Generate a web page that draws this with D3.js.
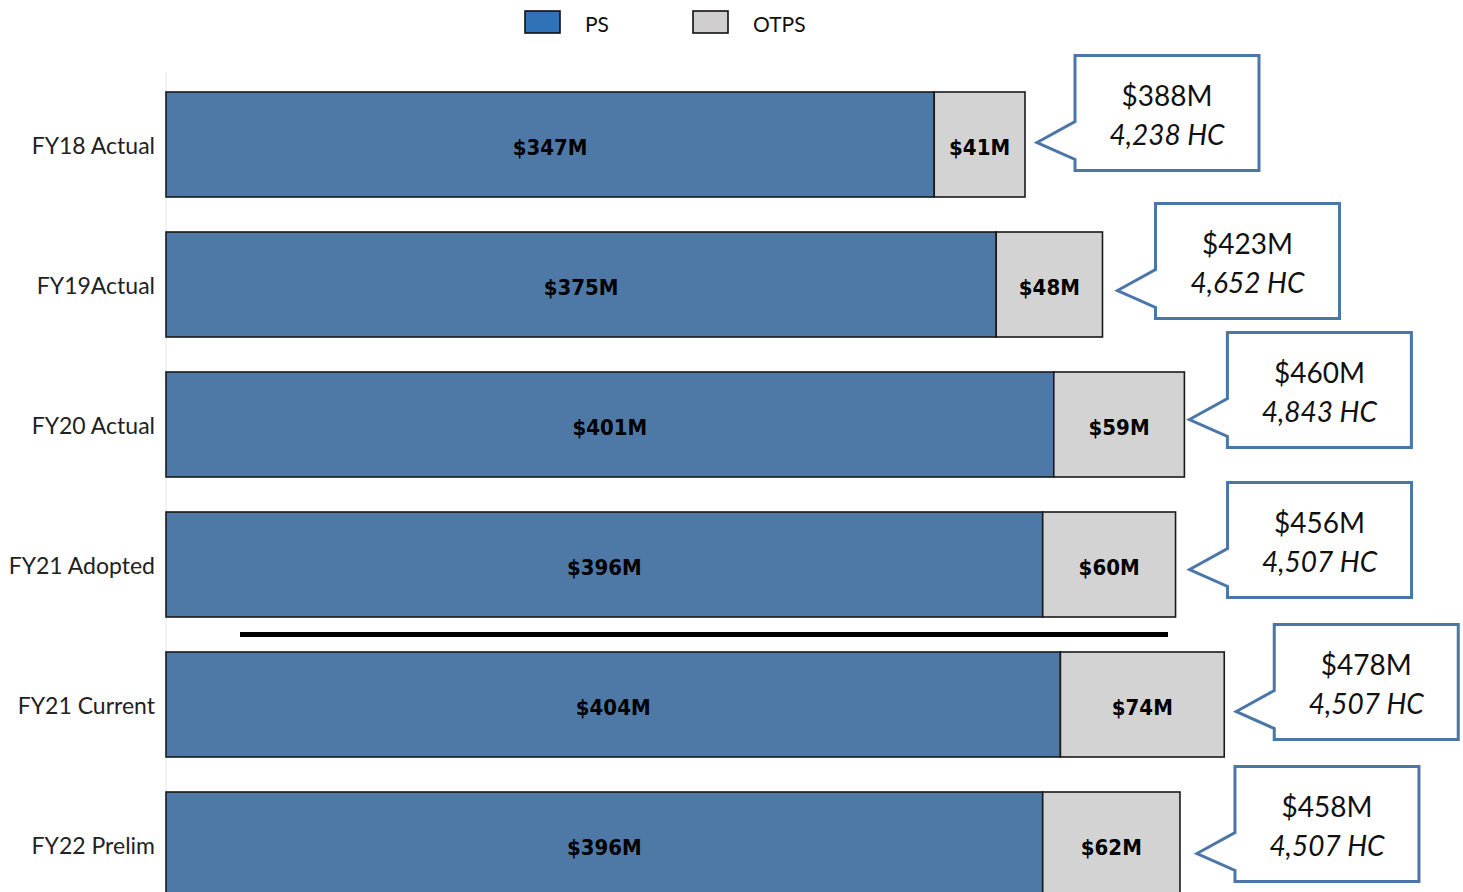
<!DOCTYPE html>
<html>
<head>
<meta charset="utf-8">
<script src="https://cdn.jsdelivr.net/npm/d3@7"></script>
<style>
  body { margin: 0; background: #fff; }
  svg { display: block; }
</style>
</head>
<body>
<div id="chart"></div>
<script>
const categories = ["FY18 Actual", "FY19Actual", "FY20 Actual", "FY21 Adopted", "FY21 Current", "FY22 Prelim"];
const psValues = [347, 375, 401, 396, 404, 396];
const otpsValues = [41, 48, 59, 60, 74, 62];
const totals = [388, 423, 460, 456, 478, 458];
const headcount = ["4,238", "4,652", "4,843", "4,507", "4,507", "4,507"];
const seriesNames = ["PS", "OTPS"];

// small per-row nudges for the callout boxes (layout only)
const calloutDx = [50, 53, 43, 52, 50, 55];
const calloutDy = [-89, -81, -92, -82, -80, -78];

const W = 1463, H = 892;
const svg = d3.select("#chart").append("svg")
  .attr("width", W)
  .attr("height", H);

const x = d3.scaleLinear()
  .domain([0, 500])
  .range([166, 166 + 500 * 859 / 388]);

const y = d3.scaleBand()
  .domain(categories)
  .range([74.5, 914.5])
  .paddingInner(0.25)
  .paddingOuter(0.125);

const color = d3.scaleOrdinal().domain(seriesNames).range(["#4e79a7", "#d3d3d3"]);

// faint axis line
svg.append("line")
  .attr("x1", 166).attr("x2", 166)
  .attr("y1", 72).attr("y2", H)
  .attr("stroke", "#eeeeee")
  .attr("stroke-width", 1.5);

const rows = categories.map((c, i) => ({ cat: c, ps: psValues[i], otps: otpsValues[i], total: totals[i], hc: headcount[i], i }));
const stack = d3.stack().keys(["ps", "otps"])(rows);

const layers = svg.selectAll(".layer")
  .data(stack)
  .enter().append("g")
  .attr("class", "layer")
  .attr("fill", (d, i) => color(seriesNames[i]));

layers.selectAll("rect")
  .data(d => d)
  .enter().append("rect")
  .attr("x", d => x(d[0]))
  .attr("y", d => y(d.data.cat))
  .attr("width", d => x(d[1]) - x(d[0]))
  .attr("height", y.bandwidth())
  .attr("stroke", "#1a1a1a")
  .attr("stroke-width", 1.6);

layers.selectAll("text")
  .data(d => d)
  .enter().append("text")
  .attr("x", d => (x(d[0]) + x(d[1])) / 2)
  .attr("y", d => y(d.data.cat) + y.bandwidth() / 2 + 3)
  .attr("dy", "0.36em")
  .attr("text-anchor", "middle")
  .style("font-family", "'DejaVu Sans Condensed', 'DejaVu Sans', sans-serif")
  .style("font-weight", "bold")
  .style("font-size", "22px")
  .style("fill", "#000")
  .text(d => "$" + (d[1] - d[0]) + "M");

// category labels
svg.append("g")
  .attr("transform", "translate(166,2)")
  .call(d3.axisLeft(y).tickSize(0).tickPadding(11))
  .call(g => g.select(".domain").remove())
  .selectAll("text")
  .style("font-family", "Lato, 'Open Sans', sans-serif")
  .style("font-size", "23px")
  .style("fill", "#222");

// separator line between adopted and current
const sepY = (y("FY21 Adopted") + y.bandwidth() + y("FY21 Current")) / 2;
svg.append("line")
  .attr("x1", 240).attr("x2", 1168)
  .attr("y1", sepY).attr("y2", sepY)
  .attr("stroke", "#000")
  .attr("stroke-width", 5);

// callouts
const bw = 184, bh = 115;
const callouts = svg.selectAll(".callout")
  .data(rows)
  .enter().append("g")
  .attr("class", "callout")
  .attr("transform", d => {
    const bx = x(d.total) + calloutDx[d.i];
    const by = y(d.cat) + y.bandwidth() / 2 + calloutDy[d.i];
    return `translate(${bx},${by})`;
  });

callouts.append("path")
  .attr("d", `M0,0 H${bw} V${bh} H0 V104 L-38,87 L0,66 Z`)
  .attr("fill", "#fff")
  .attr("stroke", "#4a76a8")
  .attr("stroke-width", 3)
  .attr("stroke-linejoin", "miter");

callouts.append("text")
  .attr("x", bw / 2)
  .attr("y", 50)
  .attr("text-anchor", "middle")
  .style("font-family", "Lato, 'Open Sans', sans-serif")
  .style("font-size", "28px")
  .style("fill", "#111")
  .text(d => "$" + d.total + "M");

callouts.append("text")
  .attr("x", bw / 2)
  .attr("y", 89)
  .attr("text-anchor", "middle")
  .style("font-family", "Lato, 'Open Sans', sans-serif")
  .style("font-style", "italic")
  .style("font-size", "28px")
  .style("fill", "#111")
  .text(d => d.hc + " HC");

// legend
const legendColors = ["#2f72b8", "#d0cece"];
const legendX = [525, 693];
const legend = svg.selectAll(".legend")
  .data(seriesNames)
  .enter().append("g")
  .attr("class", "legend")
  .attr("transform", (d, i) => `translate(${legendX[i]},11)`);

legend.append("rect")
  .attr("width", 35)
  .attr("height", 22)
  .attr("fill", (d, i) => legendColors[i])
  .attr("stroke", "#111")
  .attr("stroke-width", 1.6);

legend.append("text")
  .attr("x", 60)
  .attr("y", 13)
  .attr("dy", "0.36em")
  .style("font-family", "Lato, 'Open Sans', sans-serif")
  .style("font-size", "21px")
  .style("fill", "#111")
  .text(d => d);
</script>
</body>
</html>
